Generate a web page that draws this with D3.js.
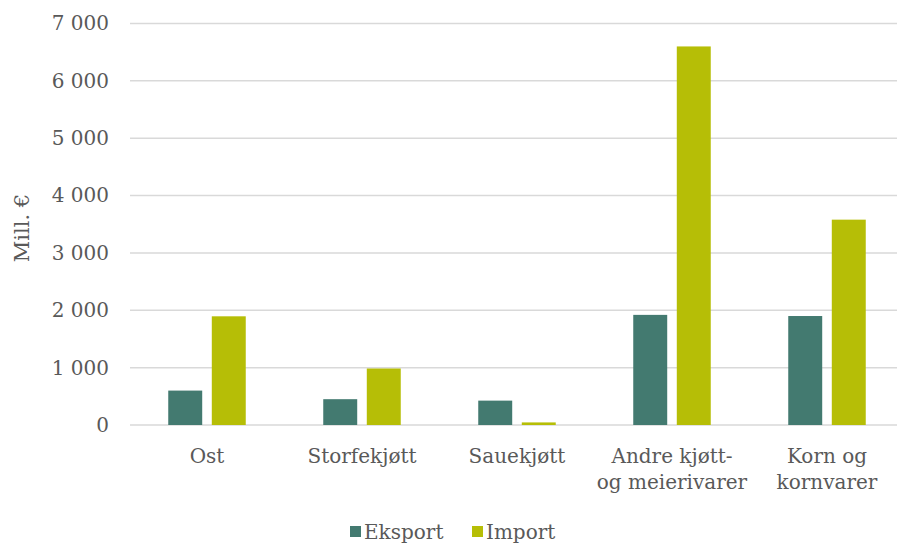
<!DOCTYPE html>
<html>
<head>
<meta charset="utf-8">
<script src="https://cdn.jsdelivr.net/npm/d3@7"></script>
<style>
  body { margin: 0; background: #fff; }
  svg { display: block; font-family: "DejaVu Serif", serif; }
</style>
</head>
<body>
<div id="chart"></div>
<script>
// Data
const categories = ["Ost", "Storfekjøtt", "Sauekjøtt", "Andre kjøtt- og meierivarer", "Korn og kornvarer"];
const categoryLines = [["Ost"], ["Storfekjøtt"], ["Sauekjøtt"], ["Andre kjøtt-", "og meierivarer"], ["Korn og", "kornvarer"]];
const series = ["Eksport", "Import"];
const eksport = [600, 450, 425, 1920, 1900];
const importVals = [1895, 985, 45, 6600, 3580];
const yTicks = [0, 1000, 2000, 3000, 4000, 5000, 6000, 7000];

const colors = { Eksport: "#437a70", Import: "#b6be06" };

const W = 897, H = 543;
const svg = d3.select("#chart").append("svg")
    .attr("width", W)
    .attr("height", H);

// Scales
const y = d3.scaleLinear().domain([0, 7000]).range([425, 23.5]);
const x0 = d3.scaleBand().domain(categories).range([129.5, 904.5]).paddingInner(0.5).paddingOuter(0.25);
const x1 = d3.scaleBand().domain(series).range([0, x0.bandwidth()]).paddingInner(0.22);

const nb = d3.formatLocale({ decimal: ",", thousands: "\u00a0", grouping: [3], currency: ["", " €"] });
const fmt = nb.format(",d");

// Grid
svg.append("g")
    .selectAll("line")
    .data(yTicks)
    .join("line")
        .attr("x1", 130)
        .attr("x2", W)
        .attr("y1", d => y(d))
        .attr("y2", d => y(d))
        .attr("stroke", "#d9d9d9")
        .attr("stroke-width", 1.5);

// Y axis labels
const yAxis = svg.append("g")
    .attr("transform", "translate(109,0)")
    .call(d3.axisLeft(y).tickValues(yTicks).tickFormat(fmt).tickSize(0).tickPadding(0));
yAxis.select(".domain").remove();
yAxis.selectAll("text")
    .attr("font-family", "DejaVu Serif, serif")
    .attr("font-size", 20)
    .attr("fill", "#595959");

// Y title
svg.append("text")
    .attr("transform", "translate(29,228) rotate(-90)")
    .attr("text-anchor", "middle")
    .attr("font-size", 21)
    .attr("fill", "#595959")
    .text("Mill. €");

// Bars
const rows = categories.map((c, i) => ({ cat: c, Eksport: eksport[i], Import: importVals[i] }));
svg.append("g")
    .selectAll("g")
    .data(rows)
    .join("g")
        .attr("transform", d => `translate(${x0(d.cat)},0)`)
    .selectAll("rect")
    .data(d => series.map(s => ({ key: s, value: d[s] })))
    .join("rect")
        .attr("x", d => x1(d.key))
        .attr("y", d => y(d.value))
        .attr("width", x1.bandwidth())
        .attr("height", d => y(0) - y(d.value))
        .attr("fill", d => colors[d.key]);

// X labels
const xl = svg.append("g")
    .selectAll("text")
    .data(categories)
    .join("text")
        .attr("x", d => x0(d) + x0.bandwidth() / 2)
        .attr("y", 463)
        .attr("text-anchor", "middle")
        .attr("font-size", 20)
        .attr("fill", "#595959");
xl.selectAll("tspan")
    .data((d, i) => categoryLines[i])
    .join("tspan")
        .attr("x", function () { return this.parentNode.getAttribute("x"); })
        .attr("dy", (d, i) => i === 0 ? 0 : 26)
        .text(d => d);

// Legend
const legendX = [350, 472];
const legend = svg.append("g")
    .selectAll("g")
    .data(series)
    .join("g")
        .attr("transform", (d, i) => `translate(${legendX[i]},532)`);
legend.append("rect")
    .attr("x", 0)
    .attr("y", -6)
    .attr("width", 11)
    .attr("height", 11)
    .attr("fill", d => colors[d]);
legend.append("text")
    .attr("x", 14)
    .attr("y", 7)
    .attr("font-size", 20)
    .attr("fill", "#595959")
    .text(d => d);
</script>
</body>
</html>
